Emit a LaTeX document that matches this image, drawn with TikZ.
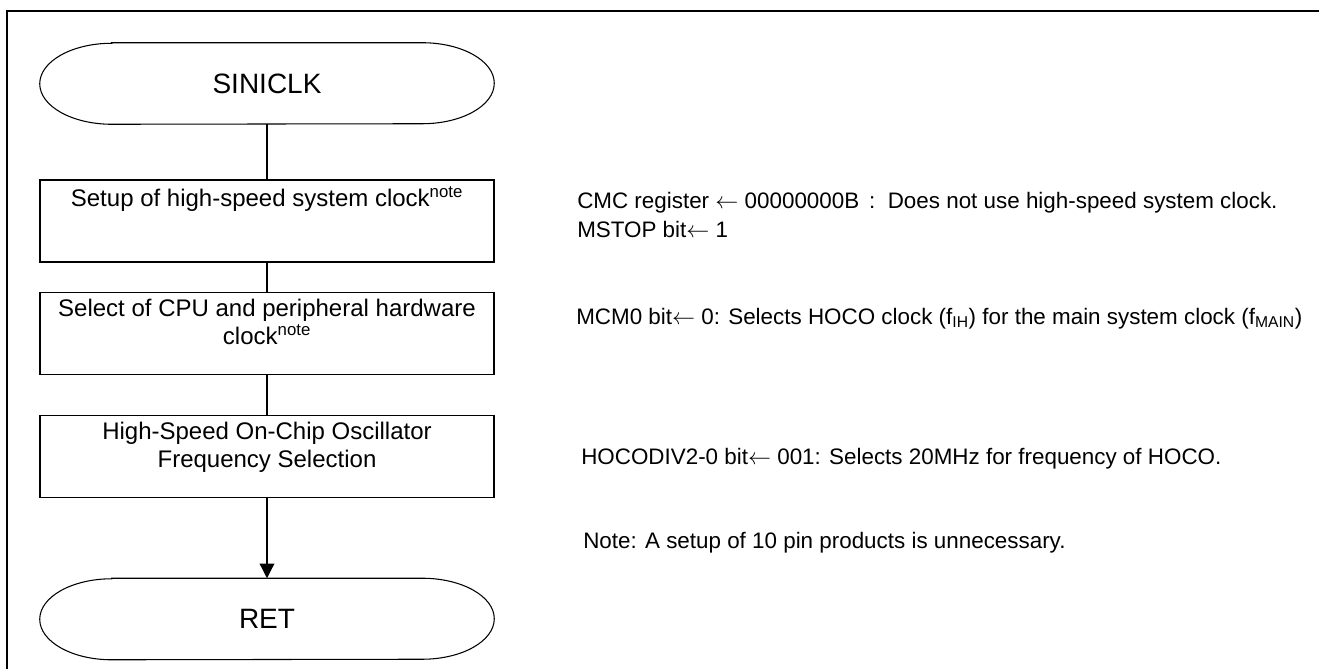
\documentclass[tikz,border=0pt]{standalone}
\usepackage{fontspec}
\setmainfont{Liberation Sans}
\usetikzlibrary{arrows.meta}

\newcommand{\boxtxt}[1]{\parbox[c][51pt][t]{330pt}{\centering #1}}

\begin{document}
\begin{tikzpicture}[x=0.75pt, y=0.75pt,
            term/.style = {minimum width=340.5pt, minimum height=60.75pt, inner sep=0pt, font=\fontsize{21}{25}\selectfont},
            termline/.style = {draw, line width=0.8pt},
            proc/.style = {draw, line width=1.1pt, minimum width=340.5pt, minimum height=61.5pt, inner sep=0pt, font=\fontsize{18}{20.5}\selectfont},
            remark/.style = {anchor=base west, inner sep=0pt, font=\fontsize{16.8}{20}\selectfont},
            link/.style = {draw, line width=1pt},
            frame/.style = {draw, line width=1.6pt},
        ]
            \useasboundingbox (0,0) rectangle (1319,669);

            % Frame (top and left edges only)
            \draw[frame] (1319,658) -- (7,658) -- (7,0);

            % Terminals
            \node[term] (start) at (267,585.5) {SINICLK};
            \node[term] (ret) at (267,50) {RET};
            \foreach \t in {start,ret}
                \draw[termline] ([xshift=54pt]\t.north west) -- ([xshift=-54pt]\t.north east)
                    arc[start angle=90, end angle=-90, x radius=54pt, y radius=30.375pt]
                    -- ([xshift=54pt]\t.south west)
                    arc[start angle=270, end angle=90, x radius=54pt, y radius=30.375pt] -- cycle;

            % Process boxes
            \node[proc] (b1) at (267,448) {\boxtxt{Setup of high-speed system clock\textsuperscript{note}}};
            \node[proc] (b2) at (267,335.5) {\boxtxt{Select of CPU and peripheral hardware\\clock\textsuperscript{note}}};
            \node[proc] (b3) at (267,212.5) {\boxtxt{High-Speed On-Chip Oscillator\\Frequency Selection}};

            % Flow
            \draw[link] (start) -- (b1);
            \draw[link] (b1) -- (b2);
            \draw[link] (b2) -- (b3);
            \draw[link, -{Triangle[width=11pt, length=11pt]}] (b3) -- (ret);

            % Comments on the right
            \node[remark] (cmc) at (577,461) {CMC register $\leftarrow$ 00000000B};
            \node[remark] (cmcnote) at ([xshift=7pt]cmc.base east) {:\ \ Does not use high-speed system clock.};
            \node[remark] (mstop) at (577,432) {MSTOP bit$\leftarrow$ 1};
            \node[remark] (mcm) at (576,345) {MCM0 bit$\leftarrow$ 0: Selects HOCO clock (f\textsubscript{IH}) for the main system clock (f\textsubscript{MAIN})};
            \node[remark] (hoco) at (581,205) {HOCODIV2-0 bit$\leftarrow$ 001: Selects 20MHz for frequency of HOCO.};
            \node[remark] (note) at (583,121) {Note: A setup of 10 pin products is unnecessary.};
        \end{tikzpicture}
\end{document}
